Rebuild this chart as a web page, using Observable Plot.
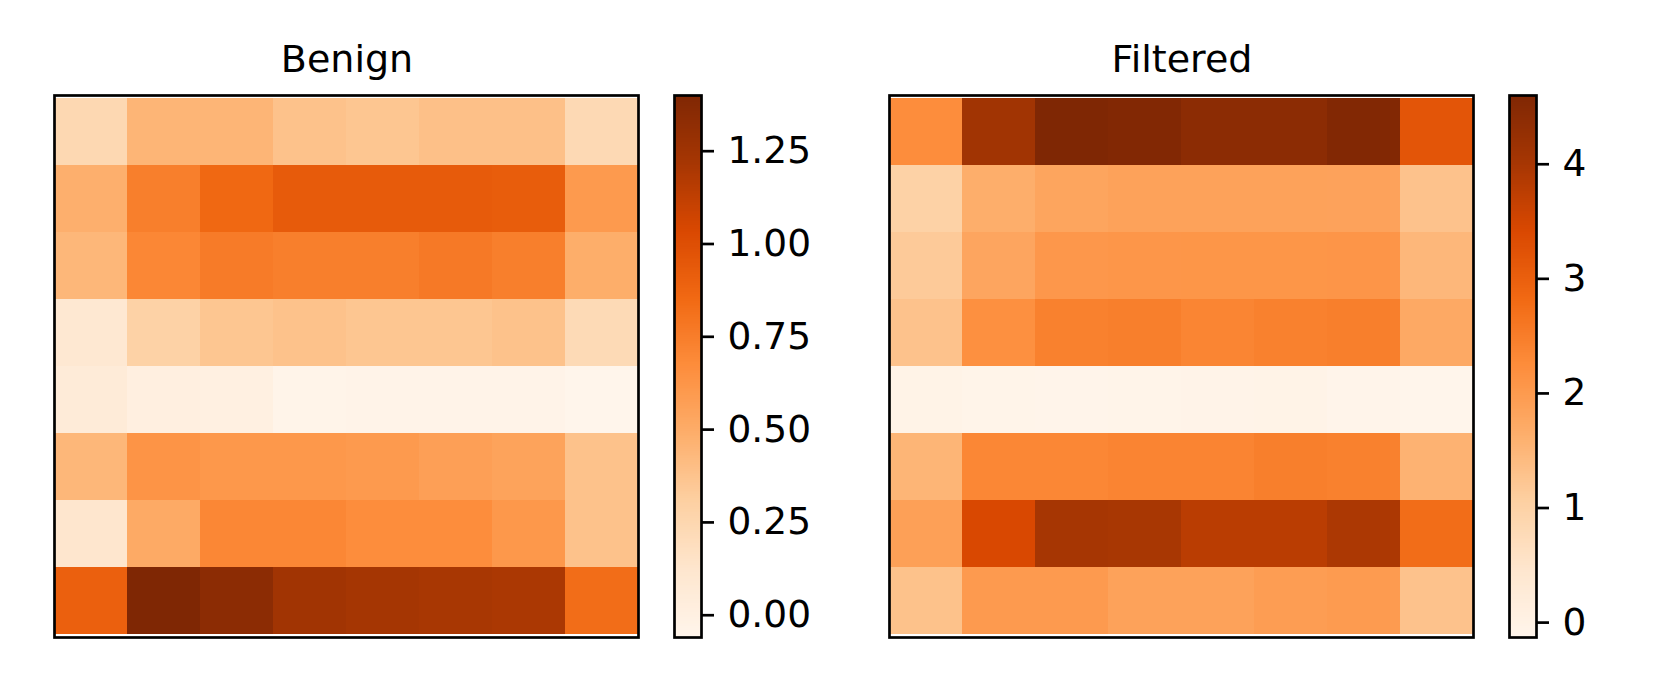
<!DOCTYPE html>
<html><head><meta charset="utf-8">
<script src="https://cdn.jsdelivr.net/npm/d3@7"></script>
<script src="https://cdn.jsdelivr.net/npm/@observablehq/plot@0.6"></script>
<style>
html,body{margin:0;padding:0;background:#fff;}
#root{position:relative;width:1661px;height:692px;background:#fff;font-family:"DejaVu Sans",sans-serif;overflow:hidden;}
.panel{position:absolute;}
.title{position:absolute;font-size:38px;line-height:38px;color:#000;white-space:nowrap;transform:translateX(-50%);}
</style></head><body><div id="root"></div>
<script>
const rows = [0, 1, 2, 3, 4, 5, 6, 7];
const cols = [0, 1, 2, 3, 4, 5, 6, 7];
const titles = ["Benign", "Filtered"];
const benign = [
  [0.24, 0.45, 0.45, 0.38, 0.36, 0.39, 0.39, 0.23],
  [0.48, 0.74, 0.86, 0.93, 0.93, 0.93, 0.92, 0.60],
  [0.44, 0.70, 0.76, 0.74, 0.74, 0.77, 0.74, 0.49],
  [0.10, 0.29, 0.36, 0.38, 0.36, 0.36, 0.38, 0.22],
  [0.06, 0.01, 0.00, -0.05, -0.04, -0.04, -0.04, -0.06],
  [0.44, 0.63, 0.61, 0.61, 0.60, 0.57, 0.55, 0.38],
  [0.12, 0.51, 0.70, 0.70, 0.67, 0.67, 0.61, 0.38],
  [0.90, 1.40, 1.34, 1.24, 1.22, 1.21, 1.20, 0.83]
];
const filtered = [
  [2.24, 4.08, 4.60, 4.56, 4.41, 4.41, 4.55, 3.18],
  [1.00, 1.64, 1.81, 1.86, 1.86, 1.86, 1.85, 1.29],
  [1.15, 1.80, 2.05, 2.07, 2.08, 2.08, 2.09, 1.48],
  [1.29, 2.19, 2.43, 2.47, 2.36, 2.43, 2.47, 1.73],
  [-0.05, -0.08, -0.10, -0.09, -0.07, -0.05, -0.10, -0.13],
  [1.53, 2.33, 2.34, 2.38, 2.38, 2.46, 2.43, 1.57],
  [1.90, 3.42, 4.01, 3.98, 3.78, 3.78, 3.94, 2.76],
  [1.30, 2.00, 2.00, 1.86, 1.86, 1.95, 1.98, 1.29]
];
const benignTicks = [0, 0.25, 0.5, 0.75, 1.0, 1.25];
const filteredTicks = [0, 1, 2, 3, 4];

const oranges = ["#fff5eb","#fee6ce","#fdd0a2","#fdae6b","#fd8d3c","#f16913","#d94801","#a63603","#7f2704"];
const FONT = "DejaVu Sans";

function colorScale(ext) {
  const stops = oranges.map((_, i) => ext[0] + i * (ext[1] - ext[0]) / (oranges.length - 1));
  return {type: "linear", domain: stops, range: oranges, interpolate: "rgb"};
}

function heatmap(matrix, ext) {
  const data = [];
  rows.forEach(r => cols.forEach(c => data.push({row: r, col: c, value: matrix[r][c]})));
  return Plot.plot({
    width: 604, height: 562, margin: 10,
    style: {background: "transparent", fontFamily: FONT, color: "black"},
    x: {type: "band", domain: cols, padding: 0, axis: null},
    y: {type: "band", domain: rows, padding: 0, axis: null},
    color: colorScale(ext),
    marks: [
      Plot.cell(data, {x: "col", y: "row", fill: "value", shapeRendering: "crispEdges"}),
      Plot.frame({stroke: "black", strokeWidth: 2.7})
    ]
  });
}

function colorbar(ext, ticks, fmt) {
  const n = 300, step = (ext[1] - ext[0]) / n;
  const ramp = d3.range(n).map(i => ({lo: ext[0] + i * step, hi: ext[0] + (i + 1) * step}));
  return Plot.plot({
    width: 150, height: 562, marginLeft: 10, marginRight: 113, marginTop: 10, marginBottom: 10,
    style: {background: "transparent", fontFamily: FONT, color: "black", overflow: "visible"},
    x: {domain: [0, 1], axis: null},
    y: {domain: ext, axis: null},
    color: colorScale(ext),
    marks: [
      Plot.rect(ramp, {x1: 0, x2: 1, y1: "lo", y2: "hi", fill: d => (d.lo + d.hi) / 2, shapeRendering: "crispEdges"}),
      Plot.axisY({anchor: "right", ticks: ticks, tickFormat: fmt, tickSize: 12, tickPadding: 14, strokeWidth: 2.7, fontSize: 37.5, fill: "black"}),
      Plot.frame({stroke: "black", strokeWidth: 2.7})
    ]
  });
}

const root = document.getElementById("root");
function place(node, left, top) {
  node.classList.add("panel");
  node.style.left = left + "px";
  node.style.top = top + "px";
  root.appendChild(node);
}

const extB = d3.extent(benign.flat());
const extF = d3.extent(filtered.flat());

place(heatmap(benign, extB), 44, 85);
place(colorbar(extB, benignTicks, d3.format(".2f")), 664, 85);
place(heatmap(filtered, extF), 879, 85);
place(colorbar(extF, filteredTicks, d3.format("d")), 1499, 85);

[[titles[0], 347], [titles[1], 1182]].forEach(([t, x]) => {
  const d = document.createElement("div");
  d.className = "title";
  d.textContent = t;
  d.style.left = x + "px";
  d.style.top = "40px";
  root.appendChild(d);
});
</script>
</body></html>
